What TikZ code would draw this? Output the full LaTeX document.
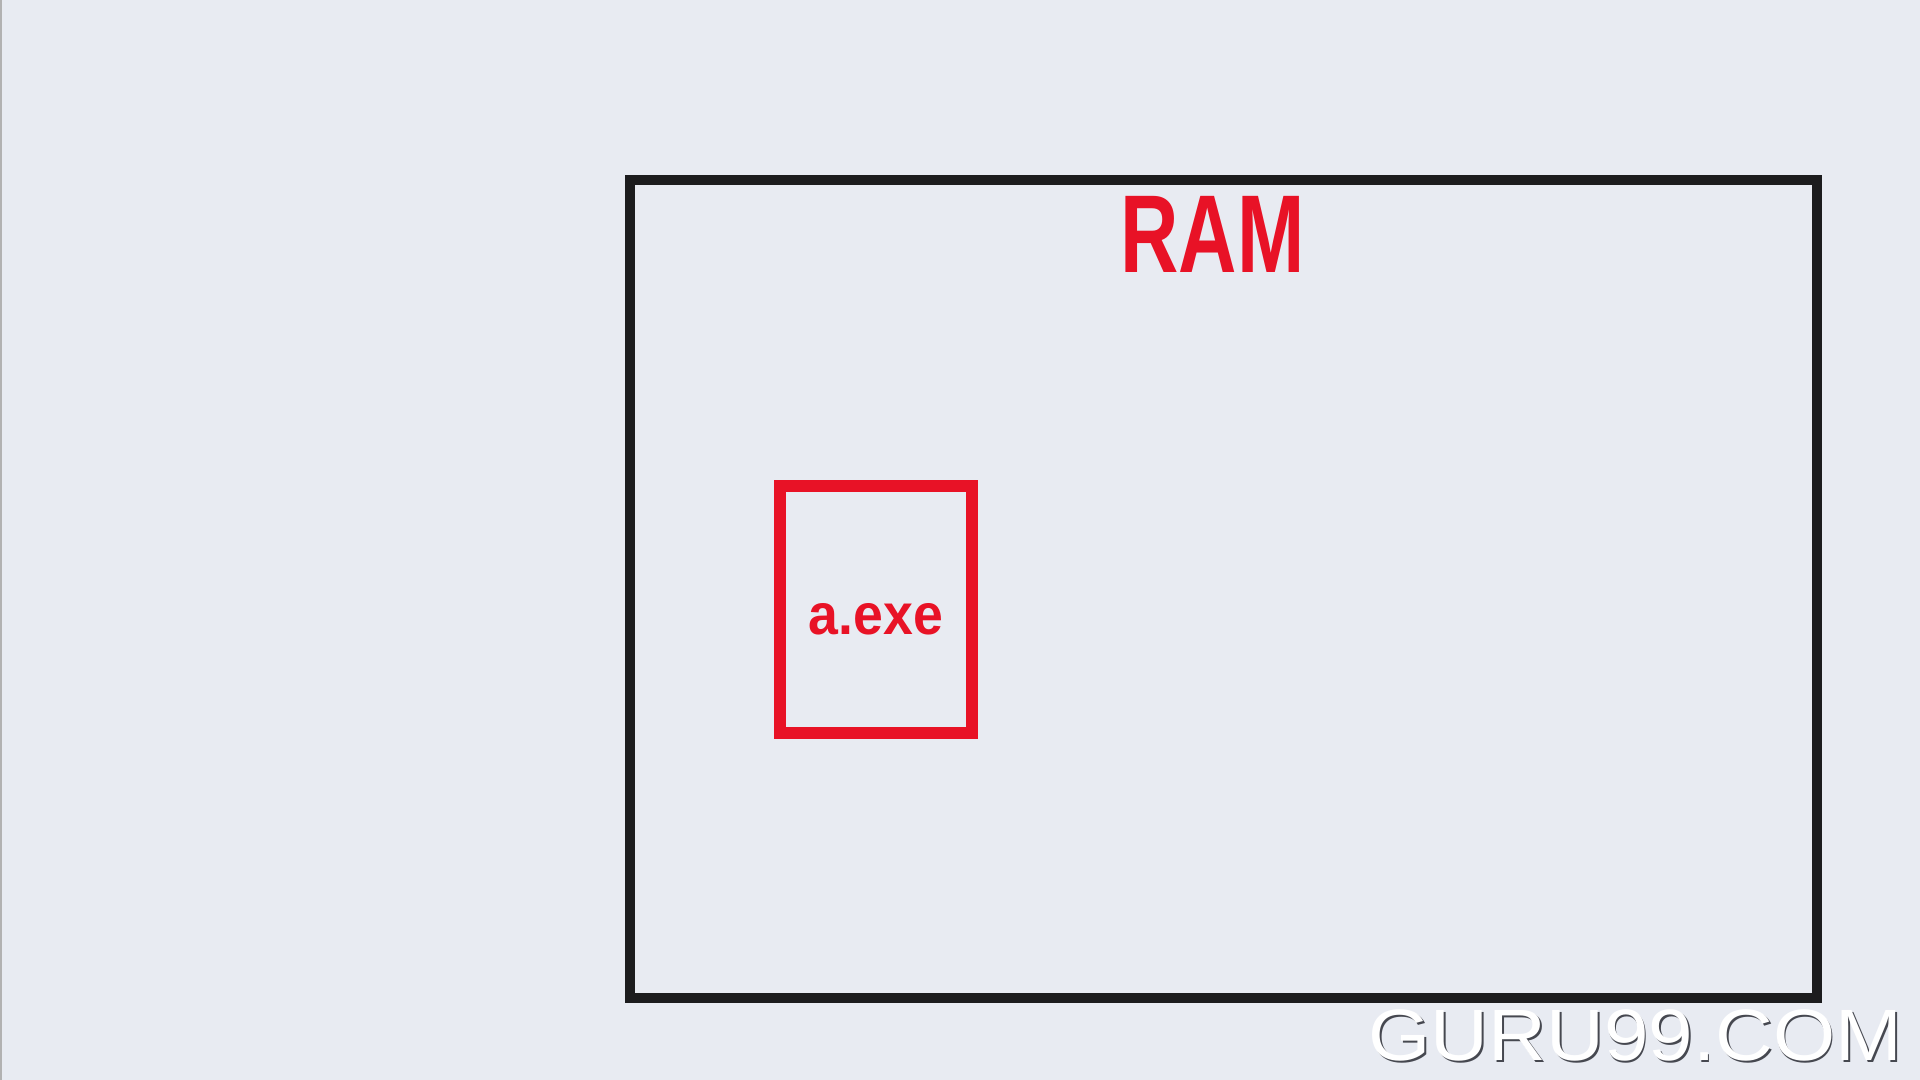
\documentclass[tikz,border=0pt]{standalone}
\usepackage{fontspec}
\setmainfont{Liberation Sans}
\usetikzlibrary{positioning}
\definecolor{bgpaper}{RGB}{232,235,242}
\definecolor{inkred}{RGB}{232,18,38}
\definecolor{inkblack}{RGB}{28,28,30}
\definecolor{wmshade}{RGB}{70,72,80}

\begin{document}
\begin{tikzpicture}[
    mem/.style  ={draw=inkblack, line width=1mm, minimum width=118.7mm,
                  minimum height=81.8mm, inner sep=0pt},
    proc/.style ={draw=inkred, line width=1.2mm, minimum width=19.2mm,
                  minimum height=24.7mm, inner sep=0pt},
    plbl/.style ={text=inkred, inner sep=0pt,
                  font=\bfseries\fontsize{16.4}{18}\selectfont},
    title/.style={text=inkred, inner sep=0pt,
                  font=\bfseries\fontsize{31.5}{34}\selectfont},
    wmark/.style={inner sep=0pt, anchor=base,
                  font=\fontsize{20.7}{24}\selectfont},
]
% page
\fill[bgpaper] (0,0) rectangle (19.2,-10.8);
\useasboundingbox (0,0) rectangle (19.2,-10.8);
\draw[gray!60, line width=0.2mm] (0.01,0) -- (0.01,-10.8);
% memory frame
\node[mem] (ram) at (12.235,-5.89) {};
\node[title, below=0.21 of ram.north, xshift=-1.1mm] (ramlbl) {\scalebox{0.73}[1]{RAM}};
% program loaded into memory
\node[proc] (aexe) at (8.76,-6.095) {};
\node[plbl, below=1mm of aexe.center, anchor=center] (aexelbl) {\scalebox{0.93}[1]{a.exe}};
% watermark
\node[wmark, text=wmshade] (wmshadow) at (16.37,-10.62) {\scalebox{1.1}[1]{GURU99.COM}};
\node[wmark, text=white] (wm) at (16.355,-10.605) {\scalebox{1.1}[1]{GURU99.COM}};
\end{tikzpicture}
\end{document}
